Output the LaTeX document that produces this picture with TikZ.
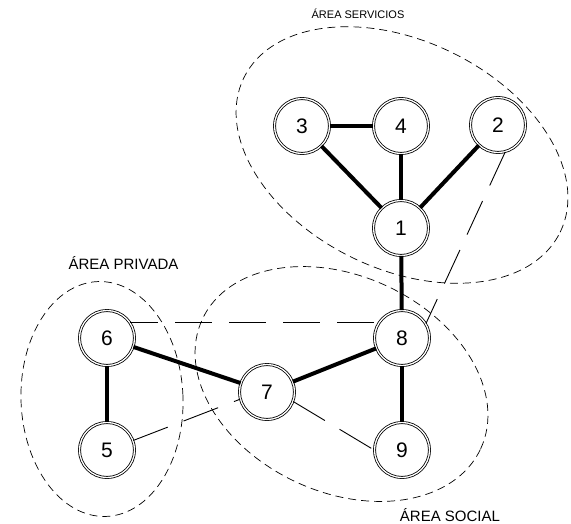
\documentclass[tikz,border=0pt]{standalone}
\usepackage{fontspec}
\setmainfont{Liberation Sans}
\begin{document}
\begin{tikzpicture}[x=1pt,y=1pt,
  vert/.style={circle,draw=black,line width=0.8pt,double=white,double distance=1.3pt,fill=white,minimum size=55pt,inner sep=0pt,font=\fontsize{21}{25}\selectfont},
  strong/.style={line width=4pt},
  weak/.style={line width=0.9pt,dash pattern=on 37pt off 17pt},
  zone/.style={line width=0.7pt,dash pattern=on 8pt off 5pt},
  zonelabel/.style={anchor=base,inner sep=0pt}]
\useasboundingbox (0,0) rectangle (571,-523);
% zones
\draw[zone,rotate around={-26:(402,-155)}] (402,-155) ellipse [x radius=176pt, y radius=114pt];
\draw[zone,rotate around={-25:(341.5,-384)}] (341.5,-384) ellipse [x radius=153.5pt, y radius=108pt];
\draw[zone,rotate around={2:(102,-399)}] (102,-399) ellipse [x radius=81pt, y radius=117.5pt];
% nodes
\node[vert] (n1) at (401,-228) {1};
\node[vert] (n2) at (498,-125) {2};
\node[vert] (n3) at (302,-126) {3};
\node[vert] (n4) at (401,-126) {4};
\node[vert] (n5) at (107,-450) {5};
\node[vert] (n6) at (107,-338) {6};
\node[vert] (n7) at (267,-392) {7};
\node[vert] (n8) at (402,-338) {8};
\node[vert] (n9) at (402,-450) {9};
% strong edges
\draw[strong] (n3) -- (n4);
\draw[strong] (n3) -- (n1);
\draw[strong] (n4) -- (n1);
\draw[strong] (n2) -- (n1);
\draw[strong] (n1) -- (n8);
\draw[strong] (n6) -- (n7);
\draw[strong] (n6) -- (n5);
\draw[strong] (n7) -- (n8);
\draw[strong] (n8) -- (n9);
% weak edges
\draw[weak,dash phase=9pt] (n6.34) -- (n8.146);
\draw[weak] (n2.-75) -- (n8.31);
\draw[weak] (n5.20) -- (n7.195);
\draw[weak] (n7.-20) -- (n9.180);
% labels
\node[zonelabel,font=\fontsize{11}{13}\selectfont] (ls) at (358,-18.5) {ÁREA SERVICIOS};
\node[zonelabel,font=\fontsize{15}{18}\selectfont] (lp) at (123.5,-269) {ÁREA PRIVADA};
\node[zonelabel,font=\fontsize{15}{18}\selectfont] (lc) at (450,-521) {ÁREA SOCIAL};
\end{tikzpicture}
\end{document}
